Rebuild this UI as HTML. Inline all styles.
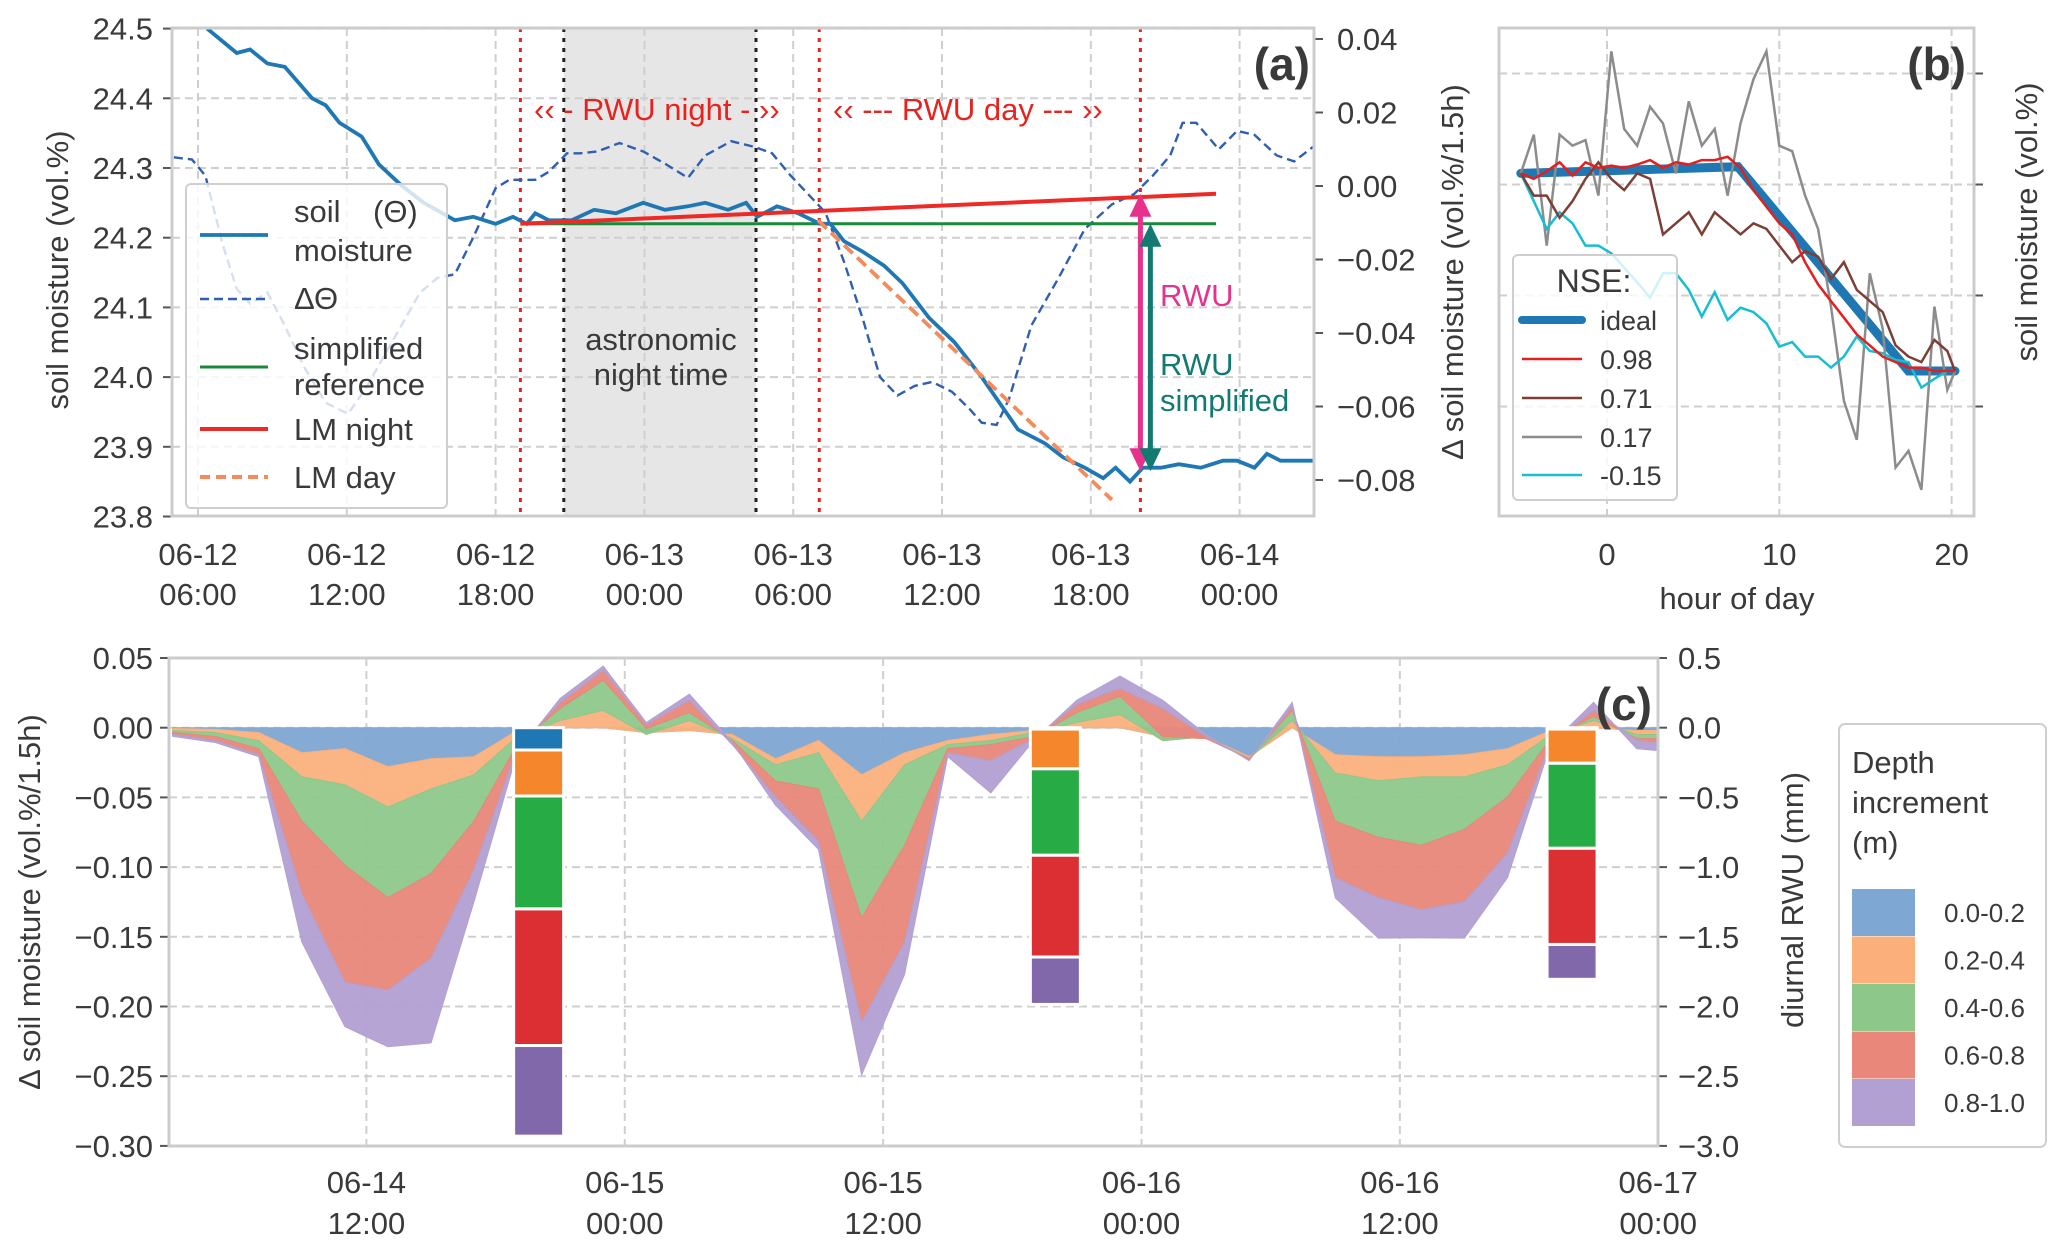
<!DOCTYPE html>
<html><head><meta charset="utf-8"><style>
html,body{margin:0;padding:0;background:#fff;}
svg text{font-family:"Liberation Sans",Arial,sans-serif;fill:#3a3a3a;}
</style></head><body>
<svg id="fig" xmlns="http://www.w3.org/2000/svg" width="2067" height="1251" viewBox="0 0 2067 1251">
<defs>
<clipPath id="clipA"><rect x="172" y="28" width="1142" height="488"/></clipPath>
<clipPath id="clipB"><rect x="1499" y="28" width="475" height="488"/></clipPath>
<clipPath id="clipC"><rect x="169" y="658" width="1489" height="488"/></clipPath>
</defs>
<g id="panelA"></g>
<g id="panelB"></g>
<g id="panelC"></g>
</svg>
<script>
// ---------- Panel (a) data ----------
const smHours = [6.37,7.56,8.1,8.8,9.5,10.6,11.15,11.7,12.6,13.3,14.2,15.1,16.36,17.1,18,18.7,19.25,19.6,20.15,21.06,21.97,22.85,23.95,24.83,25.76,26.45,27.37,28.1,28.55,29.35,30.2,31.08,31.5,32.05,32.8,33.66,34.4,35.48,36.5,37.6,39.06,40.15,40.88,41.76,42.5,43.0,43.58,44.1,44.83,45.55,46.44,47.33,47.9,48.6,49.1,49.65,50.95];
const smValues = [24.5,24.465,24.47,24.45,24.445,24.40,24.39,24.365,24.345,24.305,24.275,24.25,24.225,24.23,24.22,24.23,24.22,24.235,24.225,24.225,24.24,24.235,24.25,24.24,24.245,24.25,24.24,24.25,24.23,24.245,24.235,24.22,24.22,24.195,24.18,24.16,24.135,24.085,24.05,24.0,23.925,23.905,23.885,23.87,23.855,23.87,23.85,23.87,23.87,23.875,23.87,23.88,23.88,23.87,23.89,23.88,23.88];
const dHours = [5.03,5.76,6.3,7.0,7.56,8.1,8.8,9.5,10.26,11.15,12.05,12.77,13.86,14.95,15.66,16.36,17.1,18.0,18.55,19.6,20.15,20.88,21.4,22.1,23.0,23.95,24.83,25.76,26.45,27.5,28.45,29.15,29.9,30.6,31.3,32.05,32.8,33.5,34.2,34.9,35.6,36.4,37.1,37.6,38.2,38.7,39.6,40.7,41.76,42.85,43.74,44.5,45.2,45.7,46.25,47.16,47.9,48.6,49.5,50.2,50.95];
const dValues = [0.0078,0.0072,0.0028,-0.016,-0.028,-0.032,-0.029,-0.038,-0.049,-0.059,-0.062,-0.055,-0.042,-0.029,-0.025,-0.024,-0.014,-0.0006,0.0017,0.0017,0.0039,0.0089,0.0089,0.0094,0.0117,0.0094,0.0061,0.0022,0.0083,0.0122,0.0106,0.0089,0.0028,-0.0022,-0.0072,-0.0206,-0.036,-0.052,-0.057,-0.0544,-0.0533,-0.056,-0.0606,-0.0644,-0.065,-0.058,-0.038,-0.025,-0.0117,-0.005,-0.0022,0.0028,0.0083,0.0172,0.0172,0.01,0.015,0.0139,0.0083,0.0067,0.0106];
const lmNightHours = [19.0,47.05];
const lmNightValues = [24.22,24.263];
const refHours = [19.0,47.05];
const refValues = [24.22,24.22];
const lmDayHours = [31.0,42.85];
const lmDayValues = [24.225,23.824];
const aTickHours = [6,12,18,24,30,36,42,48];
const aTickLine1 = ["06-12","06-12","06-12","06-13","06-13","06-13","06-13","06-14"];
const aTickLine2 = ["06:00","12:00","18:00","00:00","06:00","12:00","18:00","00:00"];
const aLeftTicks = [23.8,23.9,24.0,24.1,24.2,24.3,24.4,24.5];
const aRightTicks = [0.04,0.02,0.0,-0.02,-0.04,-0.06,-0.08];
const aRedMarks = [19.0,31.05,44.0];
const aBlackMarks = [20.75,28.5];
const rwuArrow = [24.263,23.865];
const rwuSimpArrow = [24.22,23.865];

// ---------- Panel (b) data ----------
const bHours = [-5,-4.25,-3.5,-2.75,-2,-1.25,-0.5,0.25,1,1.75,2.5,3.25,4,4.75,5.5,6.25,7,7.75,8.5,9.25,10,10.75,11.5,12.25,13,13.75,14.5,15.25,16,16.75,17.5,18.25,19,19.75,20.2];
const idealHours = [-5,7.6,17.5,20.2];
const idealValues = [0.10,0.16,-1.68,-1.68];
const nse098 = [0.10,0.05,0.12,0.20,0.08,0.20,0.15,0.17,0.15,0.18,0.22,0.15,0.20,0.18,0.22,0.22,0.25,0.15,-0.05,-0.20,-0.35,-0.45,-0.70,-0.90,-1.05,-1.20,-1.35,-1.45,-1.55,-1.60,-1.65,-1.65,-1.68,-1.68,-1.68];
const nse071 = [0.10,-0.10,-0.10,-0.30,-0.15,0.05,0.20,0.05,-0.05,0.10,0.05,-0.45,-0.35,-0.25,-0.45,-0.25,-0.35,-0.45,-0.35,-0.40,-0.55,-0.70,-0.60,-0.65,-0.85,-0.70,-0.95,-1.05,-1.15,-1.45,-1.55,-1.60,-1.40,-1.50,-1.68];
const nse017 = [0.10,0.45,-0.55,0.45,0.35,0.40,-0.10,1.20,0.50,0.35,0.70,0.55,0.10,0.75,0.35,0.50,-0.10,0.55,0.95,1.20,0.35,0.30,-0.10,-0.40,-1.10,-1.95,-2.30,-0.80,-1.30,-2.55,-2.40,-2.75,-1.10,-1.85,-1.68];
const nseM015 = [0.10,-0.15,-0.40,-0.25,-0.35,-0.55,-0.55,-0.62,-0.75,-0.88,-1.02,-0.80,-0.80,-0.95,-1.19,-0.97,-1.22,-1.11,-1.15,-1.25,-1.46,-1.42,-1.55,-1.55,-1.65,-1.55,-1.37,-1.50,-1.52,-1.58,-1.60,-1.83,-1.75,-1.68,-1.68];
const bXTicks = [0,10,20];
const bYTicks = [1,0,-1,-2];

// ---------- Panel (c) data ----------
const cHours = [3,5,7,9,11,13,15,17,19,21,23,25,27,29,31,33,35,37,39,41,43,45,47,49,51,53,55,57,59,61,63,65,67,69,71,72];
const layer0002 = [-0.0006,-0.0012,-0.0035,-0.0179,-0.0150,-0.0280,-0.0223,-0.0208,-0.0020,0,0,-0.0035,-0.0020,-0.0049,-0.0223,-0.0092,-0.0338,-0.0179,-0.0092,-0.0049,-0.0020,0,0,-0.0064,-0.0064,-0.0208,0,-0.0194,-0.0208,-0.0208,-0.0194,-0.0150,-0.0020,0,-0.0020,-0.0020];
const layer0204 = [-0.0014,-0.0023,-0.0058,-0.0173,-0.0260,-0.0289,-0.0217,-0.0130,-0.0043,0.0052,0.0124,-0.0014,0.0072,-0.0029,-0.0043,-0.0087,-0.0332,-0.0087,-0.0029,-0.0043,-0.0014,0.0038,0.0095,-0.0029,0,-0.0014,0.0052,-0.0130,-0.0173,-0.0145,-0.0159,-0.0116,-0.0029,0.0052,-0.0029,-0.0029];
const layer0406 = [-0.0014,-0.0029,-0.0058,-0.0318,-0.0578,-0.0650,-0.0607,-0.0332,-0.0058,0.0087,0.0217,0.0043,0.0058,-0.0014,-0.0116,-0.0260,-0.0694,-0.0578,-0.0029,-0.0029,-0.0029,0.0072,0.0130,0.0029,-0.0014,0,0.0072,-0.0347,-0.0405,-0.0491,-0.0376,-0.0231,-0.0029,0.0029,-0.0029,-0.0029];
const layer0608 = [-0.0014,-0.0029,-0.0043,-0.0520,-0.0838,-0.0665,-0.0607,-0.0347,-0.0029,0.0043,0.0072,0.0029,0.0087,-0.0029,-0.0116,-0.0376,-0.0751,-0.0694,-0.0029,-0.0116,-0.0014,0.0058,0.0058,0.0202,0.0014,-0.0009,0.0029,-0.0405,-0.0434,-0.0462,-0.0520,-0.0405,-0.0029,0.0043,-0.0014,-0.0029];
const layer0810 = [-0.0014,-0.0014,-0.0014,-0.0347,-0.0318,-0.0405,-0.0607,-0.0231,-0.0029,0.0029,0.0029,0.0014,0.0043,0.0014,-0.0058,-0.0058,-0.0376,-0.0231,-0.0029,-0.0231,-0.0014,0.0029,0.0087,0.0058,0.0014,-0.0006,0.0029,-0.0145,-0.0289,-0.0202,-0.0260,-0.0173,-0.0014,0.0058,-0.0058,-0.0058];
const barHours = [20.0,44.0,68.0];
const bar0002 = [0.16,0.01,0.01];
const bar0204 = [0.33,0.285,0.245];
const bar0406 = [0.81,0.62,0.61];
const bar0608 = [0.98,0.73,0.69];
const bar0810 = [0.65,0.34,0.25];
const cTickHours = [12,24,36,48,60,72];
const cTickLine1 = ["06-14","06-15","06-15","06-16","06-16","06-17"];
const cTickLine2 = ["12:00","00:00","12:00","00:00","12:00","00:00"];
const cLeftTicks = [0.05,0.0,-0.05,-0.10,-0.15,-0.20,-0.25,-0.30];
const cRightTicks = [0.5,0.0,-0.5,-1.0,-1.5,-2.0,-2.5,-3.0];
const depthLabels = ["0.0-0.2","0.2-0.4","0.4-0.6","0.6-0.8","0.8-1.0"];

// ---------- helpers ----------
const NS = "http://www.w3.org/2000/svg";
const FS = 31;
function mk(parent, tag, attrs, txt){
  const e = document.createElementNS(NS, tag);
  for (const k in attrs) e.setAttribute(k, attrs[k]);
  if (txt !== undefined) e.textContent = txt;
  parent.appendChild(e);
  return e;
}
function fmt(v, d){ const s = Math.abs(v).toFixed(d); return (v < -1e-9 ? "\u2212" : "") + s; }
function pathOf(xs, ys, fx, fy){ return xs.map((x,i)=>(i?"L":"M")+fx(x).toFixed(1)+","+fy(ys[i]).toFixed(1)).join(""); }

const GRID = "#cfcfcf", SPINE = "#cccccc";

// ---------- Panel (a) ----------
const A = document.getElementById("panelA");
const xa = t => 198 + (t - 6) * 24.8;
const ya = v => 28.6 + (24.5 - v) * 697;
const yaR = d => 186 - d * 3675;

let e;
e = mk(A, "rect", {x: xa(20.75), y: 28, width: xa(28.5) - xa(20.75), height: 488, fill: "#e6e6e6"});


aLeftTicks.forEach(v => {
  e = mk(A, "line", {x1: 172, x2: 1314, y1: ya(v), y2: ya(v), stroke: GRID, "stroke-width": 2, "stroke-dasharray": "8,5"});
  
  
  e = mk(A, "line", {x1: 163, x2: 172, y1: ya(v), y2: ya(v), stroke: "#555", "stroke-width": 2});
  
  
  e = mk(A, "text", {x: 153, y: ya(v) + 11, "text-anchor": "end", "font-size": FS}, v.toFixed(1));
  
  
});
aTickHours.forEach((t, i) => {
  e = mk(A, "line", {x1: xa(t), x2: xa(t), y1: 28, y2: 516, stroke: GRID, "stroke-width": 2, "stroke-dasharray": "8,5"});
  
  
  e = mk(A, "text", {x: xa(t), y: 565, "text-anchor": "middle", "font-size": FS}, aTickLine1[i]);
  
  
  e = mk(A, "text", {x: xa(t), y: 605, "text-anchor": "middle", "font-size": FS}, aTickLine2[i]);
  
  
});
aRightTicks.forEach(v => {
  e = mk(A, "line", {x1: 1314, x2: 1323, y1: yaR(v), y2: yaR(v), stroke: "#555", "stroke-width": 2});
  
  
  e = mk(A, "text", {x: 1337, y: yaR(v) + 11, "font-size": FS}, fmt(v, 2));
  
  
});
aRedMarks.forEach(t => {
  e = mk(A, "line", {x1: xa(t), x2: xa(t), y1: 28, y2: 516, stroke: "#e8231f", "stroke-width": 3, "stroke-dasharray": "4,6"});
  
  
});
aBlackMarks.forEach(t => {
  e = mk(A, "line", {x1: xa(t), x2: xa(t), y1: 28, y2: 516, stroke: "#222", "stroke-width": 3, "stroke-dasharray": "4,6"});
  
  
});
const gA = mk(A, "g", {"clip-path": "url(#clipA)"});


e = mk(gA, "path", {d: pathOf(dHours, dValues, xa, yaR), fill: "none", stroke: "#2f5fb3", "stroke-width": 2.4, "stroke-dasharray": "9,5"});


e = mk(gA, "path", {d: pathOf(refHours, refValues, xa, ya), fill: "none", stroke: "#1a8a3a", "stroke-width": 3});


e = mk(gA, "path", {d: pathOf(smHours, smValues, xa, ya), fill: "none", stroke: "#1f77b4", "stroke-width": 3.8});


e = mk(gA, "path", {d: pathOf(lmNightHours, lmNightValues, xa, ya), fill: "none", stroke: "#ee2a27", "stroke-width": 4});


e = mk(gA, "path", {d: pathOf(lmDayHours, lmDayValues, xa, ya), fill: "none", stroke: "#f58a5a", "stroke-width": 3.8, "stroke-dasharray": "12,6"});


function dblArrow(g, x, v1, v2, col, name){
  const y1 = ya(v1), y2 = ya(v2);
  const el = mk(g, "g", {});
  
  
  mk(el, "line", {x1: x, x2: x, y1: y1 + 18, y2: y2 - 18, stroke: col, "stroke-width": 5});
  mk(el, "polygon", {points: `${x},${y1} ${x-11},${y1+23} ${x+11},${y1+23}`, fill: col});
  mk(el, "polygon", {points: `${x},${y2} ${x-11},${y2-23} ${x+11},${y2-23}`, fill: col});
}
dblArrow(A, xa(44.0), rwuArrow[0], rwuArrow[1], "#e8318d", "rwu-arrow");
dblArrow(A, xa(44.0) + 10, rwuSimpArrow[0], rwuSimpArrow[1], "#137a72", "rwu-simplified-arrow");
e = mk(A, "text", {x: 1160, y: 306, "font-size": FS, style: "fill:#e8318d"}, "RWU");


e = mk(A, "text", {x: 1160, y: 375, "font-size": FS, style: "fill:#137a72"}, "RWU");


e = mk(A, "text", {x: 1160, y: 411, "font-size": FS, style: "fill:#137a72"}, "simplified");


e = mk(A, "text", {x: 534, y: 120, "font-size": FS, style: "fill:#e8231f"}, "\u2039\u2039 - RWU night - \u203a\u203a");


e = mk(A, "text", {x: 833, y: 120, "font-size": FS, style: "fill:#e8231f"}, "\u2039\u2039 --- RWU day --- \u203a\u203a");


e = mk(A, "text", {x: 661, y: 350, "text-anchor": "middle", "font-size": FS}, "astronomic");


e = mk(A, "text", {x: 661, y: 385, "text-anchor": "middle", "font-size": FS}, "night time");


e = mk(A, "text", {x: 1310, y: 80, "text-anchor": "end", "font-size": 46, "font-weight": "bold"}, "(a)");


const LA = mk(A, "g", {});


mk(LA, "rect", {x: 186, y: 184, width: 261, height: 324, rx: 5, fill: "#fff", "fill-opacity": 0.8, stroke: "#cfcfcf", "stroke-width": 2});
const legA = [
  {y: 235, col: "#1f77b4", w: 3.8, dash: "", t: [["soil", 222], ["moisture", 261]], name: "legend-soil-moisture"},
  {y: 299, col: "#2f5fb3", w: 2.5, dash: "9,5", t: [["\u0394\u0398", 309]], name: "legend-delta-theta"},
  {y: 367, col: "#1a8a3a", w: 3, dash: "", t: [["simplified", 359], ["reference", 395]], name: "legend-simplified-reference"},
  {y: 429, col: "#ee2a27", w: 4, dash: "", t: [["LM night", 440]], name: "legend-lm-night"},
  {y: 477, col: "#f58a5a", w: 4, dash: "10,6", t: [["LM day", 488]], name: "legend-lm-day"}
];
legA.forEach(L => {
  const g = mk(LA, "g", {});
  
  
  mk(g, "line", {x1: 200, x2: 268, y1: L.y, y2: L.y, stroke: L.col, "stroke-width": L.w, "stroke-dasharray": L.dash});
  L.t.forEach(p => mk(g, "text", {x: 294, y: p[1], "font-size": FS}, p[0]));
});
mk(LA, "text", {x: 373, y: 222, "font-size": FS}, "(\u0398)");
e = mk(A, "rect", {x: 172, y: 28, width: 1142, height: 488, fill: "none", stroke: SPINE, "stroke-width": 3});


e = mk(A, "text", {x: 0, y: 0, "font-size": FS, "text-anchor": "middle", transform: "translate(68,270) rotate(-90)"}, "soil moisture (vol.%)");


e = mk(A, "text", {x: 0, y: 0, "font-size": FS, "text-anchor": "middle", transform: "translate(1463,272) rotate(-90)"}, "\u0394 soil moisture (vol.%/1.5h)");



// ---------- Panel (b) ----------
const B = document.getElementById("panelB");
const xb = h => 1607 + h * 17.23;
const yb = v => 184.5 - v * 111;
bYTicks.forEach(v => {
  e = mk(B, "line", {x1: 1499, x2: 1974, y1: yb(v), y2: yb(v), stroke: GRID, "stroke-width": 2, "stroke-dasharray": "8,5"});
  
  
  e = mk(B, "line", {x1: 1974, x2: 1983, y1: yb(v), y2: yb(v), stroke: "#555", "stroke-width": 2});
  
  
});
bXTicks.forEach(h => {
  e = mk(B, "line", {x1: xb(h), x2: xb(h), y1: 28, y2: 516, stroke: GRID, "stroke-width": 2, "stroke-dasharray": "8,5"});
  
  
  e = mk(B, "text", {x: xb(h), y: 565, "text-anchor": "middle", "font-size": FS}, String(h));
  
  
});
const gB = mk(B, "g", {"clip-path": "url(#clipB)"});


e = mk(gB, "path", {d: pathOf(idealHours, idealValues, xb, yb), fill: "none", stroke: "#1f77b4", "stroke-width": 9, "stroke-linecap": "round"});


e = mk(gB, "path", {d: pathOf(bHours, nse017, xb, yb), fill: "none", stroke: "#8c8c8c", "stroke-width": 2.5});


e = mk(gB, "path", {d: pathOf(bHours, nseM015, xb, yb), fill: "none", stroke: "#17becf", "stroke-width": 2.5});


e = mk(gB, "path", {d: pathOf(bHours, nse071, xb, yb), fill: "none", stroke: "#7b3f36", "stroke-width": 2.5});


e = mk(gB, "path", {d: pathOf(bHours, nse098, xb, yb), fill: "none", stroke: "#e3201e", "stroke-width": 2.5});


const LB = mk(B, "g", {});


mk(LB, "rect", {x: 1513, y: 255, width: 164, height: 245, rx: 5, fill: "#fff", "fill-opacity": 0.8, stroke: "#cfcfcf", "stroke-width": 2});
mk(LB, "text", {x: 1594, y: 292, "text-anchor": "middle", "font-size": 32}, "NSE:");
const legB = [["ideal", "#1f77b4", 8, 320], ["0.98", "#e3201e", 2.5, 359], ["0.71", "#7b3f36", 2.5, 398], ["0.17", "#8c8c8c", 2.5, 437], ["-0.15", "#17becf", 2.5, 475]];
legB.forEach(L => {
  const g = mk(LB, "g", {});
  
  
  mk(g, "line", {x1: 1522, x2: 1582, y1: L[3], y2: L[3], stroke: L[1], "stroke-width": L[2], "stroke-linecap": L[2] > 4 ? "round" : "butt"});
  mk(g, "text", {x: 1600, y: L[3] + 10, "font-size": 27}, L[0]);
});
e = mk(B, "rect", {x: 1499, y: 28, width: 475, height: 488, fill: "none", stroke: SPINE, "stroke-width": 3});


e = mk(B, "text", {x: 1966, y: 80, "text-anchor": "end", "font-size": 46, "font-weight": "bold"}, "(b)");


e = mk(B, "text", {x: 1737, y: 609, "text-anchor": "middle", "font-size": FS}, "hour of day");


e = mk(B, "text", {x: 0, y: 0, "font-size": FS, "text-anchor": "middle", transform: "translate(2037,222) rotate(-90)"}, "soil moisture (vol.%)");



// ---------- Panel (c) ----------
const C = document.getElementById("panelC");
const xc = t => 366.4 + (t - 12) * 21.53;
const yc = v => 727.7 - v * 1394;
const ycR = m => 727.7 - m * 139.4;
cLeftTicks.forEach(v => {
  e = mk(C, "line", {x1: 169, x2: 1658, y1: yc(v), y2: yc(v), stroke: GRID, "stroke-width": 2, "stroke-dasharray": "8,5"});
  
  
  e = mk(C, "line", {x1: 160, x2: 169, y1: yc(v), y2: yc(v), stroke: "#555", "stroke-width": 2});
  
  
  e = mk(C, "text", {x: 153, y: yc(v) + 11, "text-anchor": "end", "font-size": FS}, fmt(v, 2));
  
  
});
cRightTicks.forEach(m => {
  e = mk(C, "line", {x1: 1658, x2: 1667, y1: ycR(m), y2: ycR(m), stroke: "#555", "stroke-width": 2});
  
  
  e = mk(C, "text", {x: 1678, y: ycR(m) + 11, "font-size": FS}, fmt(m, 1));
  
  
});
cTickHours.forEach((t, i) => {
  e = mk(C, "line", {x1: xc(t), x2: xc(t), y1: 658, y2: 1146, stroke: GRID, "stroke-width": 2, "stroke-dasharray": "8,5"});
  
  
  e = mk(C, "text", {x: xc(t), y: 1193, "text-anchor": "middle", "font-size": FS}, cTickLine1[i]);
  
  
  e = mk(C, "text", {x: xc(t), y: 1234, "text-anchor": "middle", "font-size": FS}, cTickLine2[i]);
  
  
});
const layers = [layer0002, layer0204, layer0406, layer0608, layer0810];
const areaCols = ["#7ea7d3", "#fbb07c", "#8dc88a", "#e8877a", "#b2a0d2"];
const barCols = ["#1f77b4", "#f5862b", "#27ab45", "#dc2f33", "#8068ab"];
const gC = mk(C, "g", {"clip-path": "url(#clipC)"});


let base = cHours.map(() => 0);
layers.forEach((L, k) => {
  const top = base.slice();
  const bot = base.map((b, i) => b + L[i]);
  let d = cHours.map((t, i) => (i ? "L" : "M") + xc(t).toFixed(1) + "," + yc(top[i]).toFixed(1)).join("");
  for (let i = cHours.length - 1; i >= 0; i--) d += "L" + xc(cHours[i]).toFixed(1) + "," + yc(bot[i]).toFixed(1);
  e = mk(gC, "path", {d: d + "Z", fill: areaCols[k], "fill-opacity": 0.95, stroke: areaCols[k], "stroke-width": 1});
  
  
  base = bot;
});
const bars = [bar0002, bar0204, bar0406, bar0608, bar0810];
barHours.forEach((t, j) => {
  let cum = 0;
  bars.forEach((arr, k) => {
    const y0 = ycR(cum), y1 = ycR(cum - arr[j]);
    e = mk(gC, "rect", {x: xc(t) - 25, y: y0, width: 50, height: Math.max(0, y1 - y0), fill: barCols[k], stroke: "#fff", "stroke-width": 3});
    
    
    cum -= arr[j];
  });
});
e = mk(C, "rect", {x: 169, y: 658, width: 1489, height: 488, fill: "none", stroke: SPINE, "stroke-width": 3});


e = mk(C, "text", {x: 1652, y: 720, "text-anchor": "end", "font-size": 46, "font-weight": "bold"}, "(c)");


e = mk(C, "text", {x: 0, y: 0, "font-size": FS, "text-anchor": "middle", transform: "translate(40,902) rotate(-90)"}, "\u0394 soil moisture (vol.%/1.5h)");


e = mk(C, "text", {x: 0, y: 0, "font-size": FS, "text-anchor": "middle", transform: "translate(1803,900) rotate(-90)"}, "diurnal RWU (mm)");


const LC = mk(C, "g", {});


mk(LC, "rect", {x: 1839, y: 724, width: 207, height: 423, rx: 6, fill: "#fff", stroke: "#cfcfcf", "stroke-width": 2});
mk(LC, "text", {x: 1852, y: 773, "font-size": FS}, "Depth");
mk(LC, "text", {x: 1852, y: 813, "font-size": FS}, "increment");
mk(LC, "text", {x: 1852, y: 853, "font-size": FS}, "(m)");
depthLabels.forEach((lab, k) => {
  const g = mk(LC, "g", {});
  
  
  mk(g, "rect", {x: 1852, y: 889 + k * 47.5, width: 63, height: 47, fill: areaCols[k]});
  mk(g, "text", {x: 1944, y: 922 + k * 47.5, "font-size": 26}, lab);
});
</script>
</body></html>
